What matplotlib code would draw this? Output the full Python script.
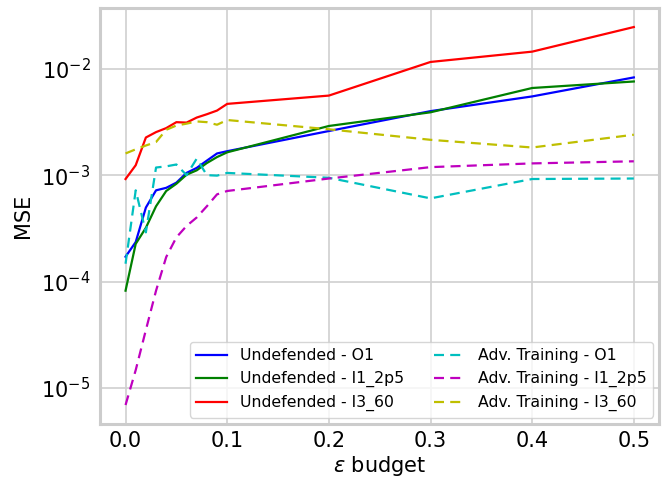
import matplotlib
matplotlib.use("Agg")
import matplotlib.pyplot as plt

#===[ dados ]===
eps = [0.0, 0.01, 0.02, 0.03, 0.04, 0.05, 0.06, 0.07, 0.08, 0.09, 0.1, 0.2, 0.3, 0.4, 0.5]

und_o1 = [1.71e-4, 2.35e-4, 4.96e-4, 7.2e-4, 7.6e-4, 8.5e-4, 1.05e-3, 1.17e-3, 1.37e-3, 1.6e-3, 1.68e-3,
          2.6e-3, 4.0e-3, 5.5e-3, 8.3e-3]
und_i1 = [8.2e-5, 2.26e-4, 3.2e-4, 5.1e-4, 7.1e-4, 8.3e-4, 1.01e-3, 1.11e-3, 1.3e-3, 1.48e-3, 1.64e-3,
          2.9e-3, 3.9e-3, 6.6e-3, 7.6e-3]
und_i3 = [9.2e-4, 1.24e-3, 2.26e-3, 2.54e-3, 2.77e-3, 3.15e-3, 3.12e-3, 3.48e-3, 3.74e-3, 4.05e-3, 4.68e-3,
          5.6e-3, 1.16e-2, 1.45e-2, 2.47e-2]
adv_o1 = [1.47e-4, 7.2e-4, 2.9e-4, 1.18e-3, 1.21e-3, 1.26e-3, 1.0e-3, 1.43e-3, 1.0e-3, 0.99e-3, 1.05e-3,
          9.45e-4, 6.05e-4, 9.2e-4, 9.3e-4]
adv_i1 = [6.9e-6, 1.47e-5, 3.5e-5, 8.2e-5, 1.7e-4, 2.6e-4, 3.33e-4, 4.0e-4, 5.1e-4, 6.6e-4, 7.1e-4,
          9.3e-4, 1.19e-3, 1.29e-3, 1.35e-3]
adv_i3 = [1.6e-3, 1.75e-3, 1.9e-3, 2.05e-3, 2.67e-3, 2.93e-3, 3.05e-3, 3.2e-3, 3.15e-3, 2.98e-3, 3.3e-3,
          2.7e-3, 2.15e-3, 1.82e-3, 2.4e-3]

series = [
    (und_o1, 'b', '-', 'Undefended - O1'),
    (und_i1, 'g', '-', 'Undefended - I1_2p5'),
    (und_i3, 'r', '-', 'Undefended - I3_60'),
    (adv_o1, 'c', '--', 'Adv. Training - O1'),
    (adv_i1, 'm', '--', 'Adv. Training - I1_2p5'),
    (adv_i3, 'y', '--', 'Adv. Training - I3_60'),
]

#===[ grafico ]===
fig = plt.figure(figsize=(6.72, 4.79), dpi=100)
ax = fig.add_axes([0.149, 0.115, 0.832, 0.868])

for vals, cor, estilo, nome in series:
    linha, = ax.plot(eps, vals, color=cor, linestyle=estilo, linewidth=1.6, label=nome)
    if estilo == '--':
        linha.set_dashes((4.5, 2.8))

ax.set_yscale('log')
ax.grid(True, color='#d0d0d0', linewidth=1.2)
ax.set_axisbelow(True)
for s in ax.spines.values():
    s.set_color('#cccccc')
    s.set_linewidth(2.2)
ax.tick_params(axis='y', which='both', length=0, labelsize=15, pad=7)
ax.tick_params(axis='x', which='both', length=0, labelsize=15, pad=5)
ax.minorticks_off()
ax.set_xlabel(r'$\epsilon$ budget', fontsize=15, labelpad=2)
ax.set_ylabel('MSE', fontsize=15, labelpad=6)

ax.legend(loc='lower right', ncol=2, fontsize=11.3, framealpha=0.8,
          handlelength=2.0, columnspacing=1.9, labelspacing=0.5,
          borderaxespad=0.4)

plt.savefig('out.png', dpi=100)
